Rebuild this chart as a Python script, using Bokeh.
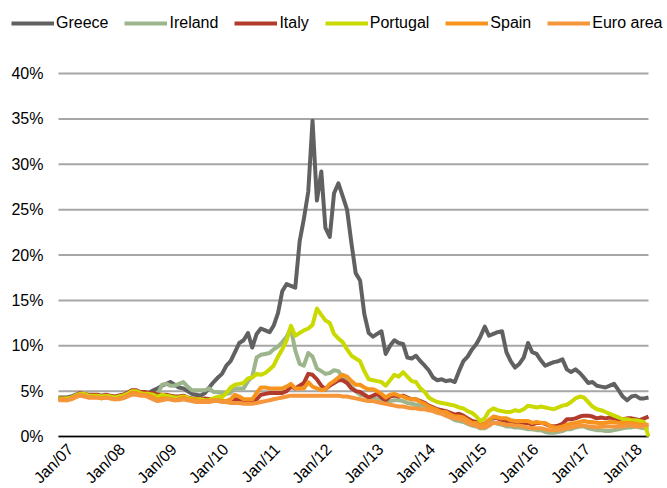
import math
import pandas as pd
from bokeh.plotting import figure
from bokeh.core.properties import value
from bokeh.models import (Range1d, Legend, LegendItem, LabelSet, ColumnDataSource)
from bokeh.embed import file_html
from bokeh.resources import INLINE

# ---- data: monthly 10-year government bond yields (%), Jan 2007 - Jun 2018 ----
months = pd.date_range("2007-01-01", "2018-06-01", freq="MS")

greece = [
    4.3, 4.3, 4.3, 4.4, 4.6, 4.7, 4.6, 4.5, 4.5, 4.5, 4.4, 4.5,   # 2007
    4.4, 4.3, 4.5, 4.5, 4.7, 5.0, 5.0, 4.8, 4.7, 4.8, 5.1, 5.3,   # 2008
    5.6, 5.8, 6.0, 5.7, 5.4, 5.3, 5.0, 4.7, 4.6, 4.5, 4.8, 5.4,   # 2009
    6.0, 6.5, 6.9, 7.8, 8.3, 9.3, 10.3, 10.6, 11.4, 9.8, 11.3, 11.9,  # 2010
    11.7, 11.5, 12.2, 13.6, 16.0, 16.8, 16.6, 16.4, 21.5, 24.0, 27.0, 34.8,  # 2011
    26.0, 29.2, 23.0, 22.0, 26.8, 27.9, 26.5, 25.0, 21.3, 18.0, 17.2, 13.5,  # 2012
    11.4, 11.0, 11.3, 11.6, 9.1, 10.0, 10.6, 10.3, 10.2, 8.7, 8.6, 8.9,  # 2013
    8.3, 7.8, 7.3, 6.5, 6.2, 6.3, 6.1, 6.2, 6.0, 7.2, 8.3, 8.8,   # 2014
    9.6, 10.2, 11.0, 12.1, 11.1, 11.3, 11.5, 11.6, 9.3, 8.3, 7.6, 8.0,  # 2015
    8.7, 10.3, 9.3, 9.1, 8.4, 7.8, 8.0, 8.2, 8.3, 8.5, 7.4, 7.1,  # 2016
    7.4, 7.0, 6.5, 5.9, 6.0, 5.6, 5.5, 5.4, 5.6, 5.8, 5.1, 4.4,   # 2017
    4.0, 4.4, 4.5, 4.2, 4.2, 4.3,                                 # 2018
]
ireland = [
    4.1, 4.1, 4.1, 4.2, 4.4, 4.6, 4.6, 4.4, 4.4, 4.4, 4.3, 4.4,
    4.3, 4.2, 4.3, 4.5, 4.7, 5.0, 5.0, 4.7, 4.7, 4.7, 4.6, 4.6,
    5.7, 5.8, 5.6, 5.6, 5.8, 6.0, 5.5, 5.1, 5.1, 5.1, 5.1, 5.3,
    4.9, 4.9, 4.8, 4.7, 4.8, 5.3, 5.3, 5.3, 6.1, 6.6, 8.7, 9.0,
    9.1, 9.2, 9.6, 9.9, 10.4, 11.0, 11.9, 9.5, 8.0, 7.8, 9.2, 8.8,
    7.5, 7.2, 6.9, 7.0, 7.3, 7.2, 6.5, 6.0, 5.5, 5.0, 4.6, 4.5,
    4.3, 4.3, 4.1, 4.0, 3.8, 3.9, 4.0, 4.0, 3.9, 3.7, 3.6, 3.5,
    3.4, 3.3, 3.1, 2.9, 2.8, 2.6, 2.3, 2.1, 1.8, 1.7, 1.6, 1.4,
    1.2, 1.1, 0.9, 0.9, 1.2, 1.6, 1.4, 1.3, 1.1, 1.1, 1.0, 1.0,
    0.9, 0.8, 0.8, 0.7, 0.7, 0.5, 0.4, 0.4, 0.5, 0.6, 0.8, 0.8,
    1.0, 1.1, 1.1, 0.9, 0.8, 0.7, 0.7, 0.6, 0.6, 0.7, 0.8, 0.9,
    1.0, 1.0, 1.1, 1.0, 0.9, 1.0,
]
italy = [
    4.2, 4.2, 4.2, 4.3, 4.5, 4.8, 4.7, 4.6, 4.6, 4.6, 4.5, 4.6,
    4.5, 4.4, 4.5, 4.6, 4.8, 5.1, 5.1, 4.9, 4.9, 4.8, 4.8, 4.6,
    4.6, 4.6, 4.5, 4.4, 4.4, 4.5, 4.3, 4.2, 4.2, 4.1, 4.2, 4.1,
    4.1, 4.1, 3.9, 3.9, 4.0, 4.1, 4.1, 3.8, 3.8, 3.8, 4.1, 4.6,
    4.7, 4.8, 4.8, 4.8, 4.8, 5.0, 5.5, 5.3, 5.6, 5.9, 6.9, 6.8,
    6.3, 5.6, 5.2, 5.6, 5.9, 6.2, 6.2, 5.9, 5.3, 5.0, 4.9, 4.6,
    4.3, 4.5, 4.7, 4.3, 4.0, 4.4, 4.5, 4.4, 4.5, 4.3, 4.1, 4.1,
    3.9, 3.7, 3.4, 3.2, 3.0, 2.9, 2.8, 2.6, 2.4, 2.5, 2.3, 2.0,
    1.7, 1.6, 1.3, 1.4, 1.8, 2.1, 2.0, 1.8, 1.7, 1.5, 1.6, 1.6,
    1.5, 1.5, 1.3, 1.5, 1.5, 1.4, 1.2, 1.1, 1.2, 1.4, 1.9, 1.9,
    2.0, 2.2, 2.3, 2.3, 2.2, 2.0, 2.1, 2.0, 2.1, 2.0, 1.8, 1.9,
    2.0, 2.0, 1.9, 1.8, 2.0, 2.2,
]
portugal = [
    4.2, 4.2, 4.2, 4.3, 4.5, 4.7, 4.7, 4.5, 4.5, 4.5, 4.4, 4.5,
    4.4, 4.3, 4.4, 4.5, 4.7, 5.0, 5.0, 4.8, 4.7, 4.7, 4.6, 4.4,
    4.6, 4.5, 4.4, 4.3, 4.3, 4.4, 4.3, 4.1, 4.1, 4.1, 4.0, 4.0,
    4.2, 4.4, 4.3, 4.8, 5.4, 5.7, 5.8, 5.9, 6.4, 6.5, 6.9, 6.8,
    7.0, 7.4, 7.8, 8.8, 9.6, 10.6, 12.2, 11.1, 11.4, 11.7, 11.9, 12.3,
    14.1, 13.4, 12.8, 12.5, 11.3, 10.8, 10.4, 9.6, 8.9, 8.6, 8.3, 7.2,
    6.3, 6.2, 6.1, 6.0, 5.6, 6.2, 6.8, 6.6, 7.1, 6.6, 6.1, 6.0,
    5.3, 4.9, 4.3, 4.0, 3.8, 3.7, 3.6, 3.5, 3.4, 3.2, 3.1, 2.8,
    2.6, 2.2, 1.7, 2.0, 2.8, 3.1, 2.9, 2.8, 2.7, 2.7, 2.9, 2.8,
    3.0, 3.4, 3.3, 3.2, 3.3, 3.2, 3.1, 3.0, 3.2, 3.4, 3.5, 3.8,
    4.2, 4.4, 4.3, 3.8, 3.3, 3.0, 2.9, 2.7, 2.5, 2.3, 2.1, 1.9,
    1.9, 1.8, 1.8, 1.7, 1.6, 0.0,
]
spain = [
    4.1, 4.1, 4.0, 4.2, 4.4, 4.6, 4.5, 4.3, 4.3, 4.3, 4.2, 4.3,
    4.2, 4.1, 4.2, 4.3, 4.5, 4.8, 4.8, 4.6, 4.6, 4.5, 4.3, 4.0,
    4.2, 4.2, 4.1, 4.0, 4.1, 4.3, 4.1, 4.0, 4.0, 3.9, 3.9, 3.9,
    4.0, 4.0, 3.9, 3.9, 4.1, 4.6, 4.4, 4.1, 4.1, 4.1, 4.8, 5.4,
    5.4, 5.3, 5.3, 5.3, 5.3, 5.5, 5.8, 5.3, 5.3, 5.3, 6.0, 5.5,
    5.3, 5.1, 5.2, 5.8, 6.1, 6.5, 6.8, 6.6, 6.1, 5.7, 5.7, 5.4,
    5.2, 5.2, 5.0, 4.7, 4.3, 4.6, 4.7, 4.5, 4.4, 4.2, 4.1, 4.1,
    3.8, 3.6, 3.3, 3.1, 2.9, 2.7, 2.7, 2.4, 2.2, 2.2, 2.1, 1.8,
    1.5, 1.5, 1.2, 1.4, 1.8, 2.2, 2.1, 2.0, 2.0, 1.8, 1.7, 1.7,
    1.7, 1.7, 1.5, 1.6, 1.5, 1.5, 1.2, 1.0, 1.0, 1.1, 1.3, 1.4,
    1.5, 1.6, 1.7, 1.6, 1.6, 1.5, 1.5, 1.5, 1.6, 1.6, 1.5, 1.5,
    1.5, 1.5, 1.4, 1.3, 1.3, 1.3,
]
euro_area = [
    4.0, 4.0, 4.0, 4.1, 4.3, 4.5, 4.4, 4.3, 4.3, 4.3, 4.2, 4.3,
    4.2, 4.1, 4.1, 4.2, 4.4, 4.6, 4.6, 4.5, 4.5, 4.3, 4.1, 3.9,
    4.0, 4.1, 4.1, 4.0, 4.0, 4.1, 4.0, 3.9, 3.8, 3.8, 3.8, 3.8,
    3.9, 3.9, 3.8, 3.8, 3.7, 3.7, 3.7, 3.6, 3.6, 3.6, 3.7, 3.8,
    3.9, 4.0, 4.1, 4.2, 4.3, 4.4, 4.5, 4.5, 4.5, 4.5, 4.5, 4.5,
    4.5, 4.5, 4.5, 4.5, 4.5, 4.5, 4.4, 4.4, 4.3, 4.2, 4.1, 4.0,
    3.9, 3.9, 3.8, 3.7, 3.6, 3.5, 3.4, 3.3, 3.3, 3.2, 3.1, 3.1,
    3.0, 3.0, 2.9, 2.8, 2.6, 2.5, 2.3, 2.1, 2.0, 1.9, 1.8, 1.5,
    1.3, 1.2, 1.0, 1.0, 1.2, 1.5, 1.5, 1.4, 1.3, 1.3, 1.2, 1.2,
    1.1, 1.0, 0.9, 0.9, 0.9, 0.8, 0.7, 0.7, 0.7, 0.8, 0.9, 1.0,
    1.1, 1.2, 1.2, 1.1, 1.1, 1.0, 1.1, 1.1, 1.1, 1.1, 1.1, 1.1,
    1.2, 1.2, 1.1, 1.1, 1.2, 1.3,
]

series_names = ["Greece", "Ireland", "Italy", "Portugal", "Spain", "Euro area"]
series_values = [greece, ireland, italy, portugal, spain, euro_area]
series_colors = ["#616161", "#9db58c", "#b23b2d", "#cad900", "#f7941e", "#f5963a"]

y_ticks = [0, 5, 10, 15, 20, 25, 30, 35, 40]
y_tick_labels = ["0%", "5%", "10%", "15%", "20%", "25%", "30%", "35%", "40%"]
x_tick_dates = pd.to_datetime([f"{y}-01-01" for y in range(2007, 2019)])
x_tick_labels = ["Jan/07", "Jan/08", "Jan/09", "Jan/10", "Jan/11", "Jan/12",
                 "Jan/13", "Jan/14", "Jan/15", "Jan/16", "Jan/17", "Jan/18"]

FONT = "Liberation Sans"

# ---- page layout (pixels) ----
W, H = 667, 488
PLOT_L, PLOT_R = 58, 648      # plotting area, left/right edges
PLOT_T, PLOT_B = 73, 436      # y of the 40% line and of the 0% line

# ranges chosen so the plotting area sits at the pixel box above, while the
# whole canvas (legend, tick labels) belongs to the frame and nothing is clipped
t0 = months[0].value / 1e6
t1 = months[-1].value / 1e6
ms_per_px = (t1 - t0) / (PLOT_R - PLOT_L)
y_per_px = (max(y_ticks) - min(y_ticks)) / (PLOT_B - PLOT_T)
x_range = Range1d(t0 - PLOT_L * ms_per_px, t1 + (W - PLOT_R) * ms_per_px)
y_range = Range1d(-(H - PLOT_B) * y_per_px, max(y_ticks) + PLOT_T * y_per_px)

p = figure(width=W, height=H, output_backend="svg", toolbar_location=None,
           x_range=x_range, y_range=y_range,
           x_axis_location=None, y_axis_location=None, min_border=0)
p.outline_line_color = None
p.background_fill_color = "white"
p.grid.visible = False

# horizontal gridlines at the y ticks, spanning the data period
n = len(y_ticks)
p.segment(x0=[months[0]] * n, x1=[months[-1]] * n, y0=y_ticks, y1=y_ticks,
          line_color="#a6a6a6", line_width=2)
# the x axis line at 0%
p.segment(x0=[months[0]], x1=[months[-1]], y0=[y_ticks[0]], y1=[y_ticks[0]],
          line_color="#000000", line_width=1.5)

items = []
for name, vals, col in zip(series_names, series_values, series_colors):
    r = p.line(months, vals, line_color=col, line_width=4, line_join="round")
    items.append(LegendItem(label=name, renderers=[r]))

# y tick labels
ysrc = ColumnDataSource(dict(x=[months[0]] * n, y=y_ticks, text=y_tick_labels))
p.add_layout(LabelSet(x="x", y="y", text="text", source=ysrc,
                      text_align="right", text_baseline="middle", x_offset=-15,
                      text_font=value(FONT), text_font_size=value("16px"),
                      text_color="#000000"))

# x tick labels, rotated 45 degrees
xsrc = ColumnDataSource(dict(x=x_tick_dates, y=[y_ticks[0]] * len(x_tick_dates),
                             text=x_tick_labels))
p.add_layout(LabelSet(x="x", y="y", text="text", source=xsrc,
                      angle=math.pi / 4, text_align="right", text_baseline="middle",
                      x_offset=12, y_offset=-10,
                      text_font=value(FONT), text_font_size=value("16px"),
                      text_color="#000000"))

legend = Legend(items=items, orientation="horizontal", location=(11, 455),
                glyph_width=43, glyph_height=20, label_standoff=2, spacing=16,
                padding=0, margin=0, border_line_color=None, background_fill_alpha=0,
                label_text_font=FONT, label_text_font_size="16px", label_height=20,
                label_text_color="#000000")
p.add_layout(legend, "center")

open("out.html", "w").write(file_html(p, INLINE))
